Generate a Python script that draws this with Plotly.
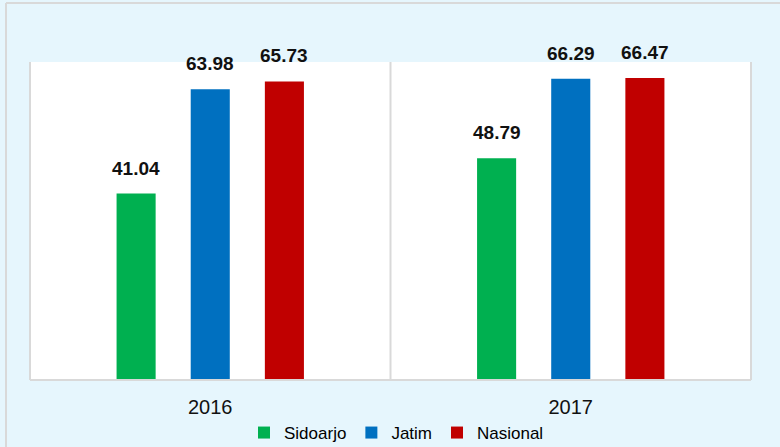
import plotly.graph_objects as go

years = ["2016", "2017"]
series_names = ["Sidoarjo", "Jatim", "Nasional"]
sidoarjo = [41.04, 48.79]
jatim = [63.98, 66.29]
nasional = [65.73, 66.47]
colors = ["#00b050", "#0070c0", "#c00000"]
series_values = [sidoarjo, jatim, nasional]

FONT = "Liberation Sans, Arial, sans-serif"

fig = go.Figure()
for name, vals, col in zip(series_names, series_values, colors):
    fig.add_trace(go.Bar(
        x=years, y=vals, name=name, marker=dict(color=col, line=dict(width=0)),
    ))

# data labels anchored at the bar values (category index on x), shifted to each bar
offsets = [-74, 0, 74]
annotations = []
for off, vals in zip(offsets, series_values):
    for i, v in enumerate(vals):
        annotations.append(dict(
            x=i, y=v, xref="x", yref="y", text=f"<b>{v:.2f}</b>", showarrow=False,
            xshift=off, yanchor="bottom", yshift=13,
            font=dict(family=FONT, size=19, color="#111111"),
        ))

L, R, T, B = 30, 29, 62, 67
W, H = 780, 447
pw = W - L - R
ph = H - T - B

grey = "#d9d9d9"
shapes = [
    dict(type="line", xref="paper", yref="paper", x0=0, x1=0, y0=0, y1=1, line=dict(color=grey, width=2)),
    dict(type="line", xref="paper", yref="paper", x0=0, x1=1, y0=0, y1=0, line=dict(color=grey, width=2)),
    dict(type="line", xref="paper", yref="paper", x0=1, x1=1, y0=0, y1=1, line=dict(color=grey, width=2)),
    dict(type="line", xref="paper", yref="paper", x0=0.5, x1=0.5, y0=0, y1=1, line=dict(color=grey, width=2)),
    dict(type="line", xref="paper", yref="paper", x0=(6 - L) / pw, x1=(6 - L) / pw,
         y0=(T + ph - H) / ph, y1=1 + (T - 3) / ph, line=dict(color=grey, width=2)),
    dict(type="line", xref="paper", yref="paper", x0=(6 - L) / pw, x1=(W - L) / pw,
         y0=1 + (T - 3) / ph, y1=1 + (T - 3) / ph, line=dict(color=grey, width=2)),
]

fig.update_layout(
    width=W, height=H,
    margin=dict(l=L, r=R, t=T, b=B, autoexpand=False),
    paper_bgcolor="#e6f6fd",
    plot_bgcolor="#ffffff",
    barmode="group",
    bargap=0.383,
    bargroupgap=0.473,
    showlegend=True,
    legend=dict(orientation="h", x=0.5 + 6 / pw, xanchor="center", y=(380 - 415) / ph, yanchor="top",
                font=dict(family=FONT, size=17, color="#000000"),
                itemwidth=30, bgcolor="rgba(0,0,0,0)", traceorder="normal", borderwidth=0),
    xaxis=dict(type="category", range=[-0.5, 1.5], showgrid=False, showline=False, zeroline=False,
               ticks="outside", ticklen=9, tickcolor="rgba(0,0,0,0)",
               tickfont=dict(family=FONT, size=20, color="#111111")),
    yaxis=dict(range=[0, 70], showgrid=False, showticklabels=False, zeroline=False,
               showline=False),
    shapes=shapes,
    annotations=annotations,
)

fig.write_html("out.html", config={"displayModeBar": False},
               post_script="document.body.style.margin='0';")
